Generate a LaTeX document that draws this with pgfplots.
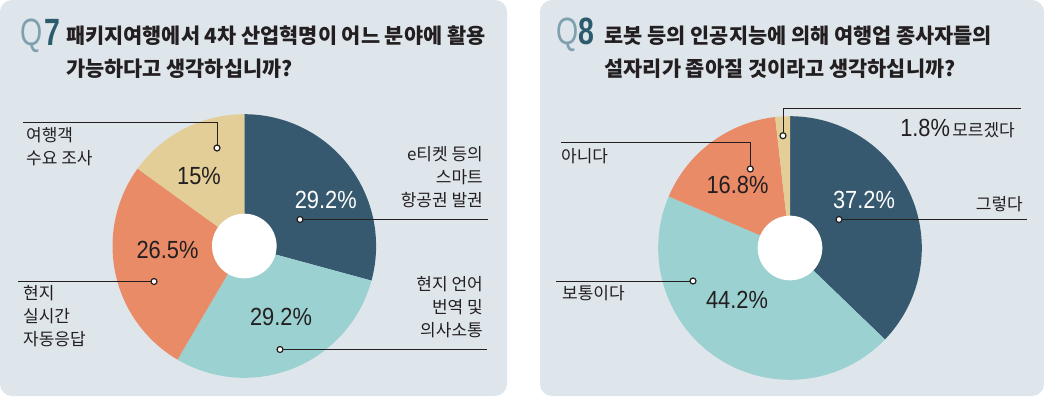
\documentclass[border=0pt]{standalone}
\usepackage{pgfplots}
\pgfplotsset{compat=1.18}
\usepackage{fontspec}
\setmainfont{Noto Sans CJK KR}
\newfontfamily\kr{Noto Sans CJK KR}
\newfontfamily\numfont[FakeStretch=0.88]{Liberation Sans}
\newfontfamily\qfont[FakeStretch=0.75]{Liberation Sans}
\definecolor{bg}{HTML}{DEE6EC}
\definecolor{cdark}{HTML}{36596F}
\definecolor{cteal}{HTML}{9BD1D0}
\definecolor{corange}{HTML}{EA8B68}
\definecolor{ctan}{HTML}{E3CE98}
\definecolor{txt}{HTML}{231F20}
\definecolor{qlight}{HTML}{7FA0AE}
\definecolor{qdark}{HTML}{2D5B6E}
\newcommand\titlef{\kr\bfseries\fontsize{20.8}{32}\selectfont}
\newcommand\labf{\kr\fontsize{17}{23}\selectfont}
\newcommand\pctf{\numfont\fontsize{24.8}{24}\selectfont}
\newcommand\qf{\qfont\fontsize{38}{38}\selectfont}
% pie slice: #1 cx, #2 cy, #3 value, #4 total, #5 colour
\def\angA{90}
\newcommand\pieslice[5]{%
  \pgfmathsetmacro\angB{\angA-#3*360/#4}%
  \edef\doslice{\noexpand\addplot[fill=#5, draw=none, domain=\angB:\angA, samples=90, variable=\noexpand\t]
    ({#1+131.8*cos(\noexpand\t)},{#2-131.8*sin(\noexpand\t)}) -- (axis cs:#1,#2) -- cycle;}%
  \doslice
  \global\let\angA\angB
}
\newcommand\hole[2]{%
  \addplot[fill=white, draw=none, domain=0:360, samples=120, variable=\t]
    ({#1+32.3*cos(\t)},{#2-32.3*sin(\t)}) -- cycle;
}
\begin{document}
\begin{tikzpicture}
\path[use as bounding box] (0,0) rectangle (1044pt,397pt);
\fill[bg, rounded corners=12pt] (0pt,1pt) rectangle (507pt,397pt);
\fill[bg, rounded corners=12pt] (540pt,1pt) rectangle (1044pt,397pt);
\begin{axis}[at={(0pt,0pt)}, anchor=south west, width=1044pt, height=397pt, scale only axis,
  xmin=0, xmax=1044, ymin=0, ymax=397, y dir=reverse, hide axis, clip=false]
% ---------- Q7 ----------
\def\angA{90}
\pieslice{244.3}{246}{29.2}{99.9}{cdark}
\pieslice{244.3}{246}{29.2}{99.9}{cteal}
\pieslice{244.3}{246}{26.5}{99.9}{corange}
\pieslice{244.3}{246}{15}{99.9}{ctan}
\hole{244.3}{246}
% ---------- Q8 ----------
\def\angA{90}
\pieslice{790}{248}{37.2}{100}{cdark}
\pieslice{790}{248}{44.2}{100}{cteal}
\pieslice{790}{248}{16.8}{100}{corange}
\pieslice{790}{248}{1.8}{100}{ctan}
\hole{790}{248}
% leader lines
\addplot[txt, line width=0.9pt] coordinates {(300,219.5) (488,219.5)};
\addplot[txt, line width=0.9pt] coordinates {(280,349.5) (487,349.5)};
\addplot[txt, line width=0.9pt] coordinates {(154,281.5) (18,281.5)};
\addplot[txt, line width=0.9pt] coordinates {(217,148) (217,122) (23,122)};
\addplot[txt, line width=0.9pt] coordinates {(839,219.5) (1027,219.5)};
\addplot[txt, line width=0.9pt] coordinates {(693,281) (556,281)};
\addplot[txt, line width=0.9pt] coordinates {(750.3,169) (750.3,142.3) (561,142.3)};
\addplot[txt, line width=0.9pt] coordinates {(783,135.7) (783,108.3) (1021,108.3)};
\addplot[only marks, mark=*, mark size=3pt, mark options={fill=white, draw=txt, line width=1.2pt}]
  coordinates {(300,219.5) (280,349.5) (154,281.5) (217,148) (839,219.5) (693,281) (750.3,169) (783,135.7)};
% percent labels
\node[anchor=base, inner sep=0pt, font=\pctf, text=white] at (axis cs:325.8,208.3) {29.2\%};
\node[anchor=base, inner sep=0pt, font=\pctf, text=txt] at (axis cs:281,325.7) {29.2\%};
\node[anchor=base, inner sep=0pt, font=\pctf, text=txt] at (axis cs:167.5,258.3) {26.5\%};
\node[anchor=base, inner sep=0pt, font=\pctf, text=txt] at (axis cs:199,184.3) {15\%};
\node[anchor=base, inner sep=0pt, font=\pctf, text=white] at (axis cs:864,208.3) {37.2\%};
\node[anchor=base, inner sep=0pt, font=\pctf, text=txt] at (axis cs:737,308.3) {44.2\%};
\node[anchor=base, inner sep=0pt, font=\pctf, text=txt] at (axis cs:737.5,193.3) {16.8\%};
\node[anchor=base east, inner sep=0pt, text=txt] at (axis cs:1015,136.7) {{\pctf 1.8\%} {\labf 모르겠다}};
% category labels
\node[anchor=east, align=right, inner sep=0pt, font=\labf, text=txt] at (axis cs:483,177) {e티켓 등의\\스마트\\항공권 발권};
\node[anchor=east, align=right, inner sep=0pt, font=\labf, text=txt] at (axis cs:483,307) {현지 언어\\번역 및\\의사소통};
\node[anchor=west, align=left, inner sep=0pt, font=\labf, text=txt] at (axis cs:23,316) {현지\\실시간\\자동응답};
\node[anchor=west, align=left, inner sep=0pt, font=\labf, text=txt] at (axis cs:26,147) {여행객\\수요 조사};
\node[anchor=east, inner sep=0pt, font=\labf, text=txt] at (axis cs:1023,204.5) {그렇다};
\node[anchor=west, inner sep=0pt, font=\labf, text=txt] at (axis cs:562,293) {보통이다};
\node[anchor=west, inner sep=0pt, font=\labf, text=txt] at (axis cs:561,156.5) {아니다};
% titles
\node[anchor=base west, inner sep=0pt, font=\qf, text=qlight] at (axis cs:20,45) {Q};
\node[anchor=base west, inner sep=0pt, font=\qf\bfseries, text=qdark] at (axis cs:44.5,45) {7};
\node[anchor=base west, inner sep=0pt, font=\titlef, text=txt] at (axis cs:66,43.5) {패키지여행에서 4차 산업혁명이 어느 분야에 활용};
\node[anchor=base west, inner sep=0pt, font=\titlef, text=txt] at (axis cs:66,76.5) {가능하다고 생각하십니까?};
\node[anchor=base west, inner sep=0pt, font=\qf, text=qlight] at (axis cs:556.5,44) {Q};
\node[anchor=base west, inner sep=0pt, font=\qf\bfseries, text=qdark] at (axis cs:578.5,44) {8};
\node[anchor=base west, inner sep=0pt, font=\titlef, text=txt] at (axis cs:604.5,43.5) {로봇 등의 인공지능에 의해 여행업 종사자들의};
\node[anchor=base west, inner sep=0pt, font=\titlef, text=txt] at (axis cs:604.5,76.5) {설자리가 좁아질 것이라고 생각하십니까?};
\end{axis}
\end{tikzpicture}
\end{document}
